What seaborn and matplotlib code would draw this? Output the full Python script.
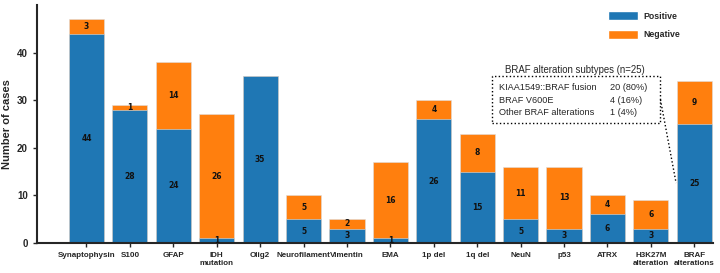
import matplotlib
matplotlib.use('Agg')
import matplotlib.pyplot as plt
from matplotlib.patches import Patch, Rectangle
import seaborn as sns
import pandas as pd

# marker names and counts
markers = ['Synaptophysin', 'S100', 'GFAP', 'IDH\nmutation', 'Olig2', 'Neurofilament',
           'Vimentin', 'EMA', '1p del', '1q del', 'NeuN', 'p53', 'ATRX',
           'H3K27M\nalteration', 'BRAF\nalterations']
positive = [44, 28, 24, 1, 35, 5, 3, 1, 26, 15, 5, 3, 6, 3, 25]
negative = [3, 1, 14, 26, 0, 5, 2, 16, 4, 8, 11, 13, 4, 6, 9]

# BRAF subtypes table
subtype_names = ['KIAA1549::BRAF fusion', 'BRAF V600E', 'Other BRAF alterations']
subtype_counts = ['20 (80%)', '4 (16%)', '1 (4%)']

df = pd.DataFrame({'marker': markers, 'positive': positive, 'negative': negative})
df['total'] = df['positive'] + df['negative']

sns.set_style('ticks')
plt.rcParams['font.family'] = ['Liberation Sans', 'DejaVu Sans']

blue = '#1f77b4'
orange = '#ff7f0e'

fig = plt.figure(figsize=(7.2, 2.73), dpi=100)
ax = fig.add_axes([37 / 720, 30 / 273, 676 / 720, 238 / 273])

sns.barplot(data=df, x='marker', y='total', color=orange, saturation=1, width=0.81,
            edgecolor='#dddddd', linewidth=0.4, ax=ax)
sns.barplot(data=df, x='marker', y='positive', color=blue, saturation=1, width=0.81,
            edgecolor='#dddddd', linewidth=0.4, ax=ax)

for i in range(len(markers)):
    if positive[i] > 0:
        ax.text(i, positive[i] / 2, str(positive[i]), ha='center', va='center',
                fontsize=5.5, fontweight='bold', color='#111111', family='DejaVu Sans')
    if negative[i] > 0:
        ax.text(i, positive[i] + negative[i] / 2, str(negative[i]), ha='center', va='center',
                fontsize=5.5, fontweight='bold', color='#111111', family='DejaVu Sans')

ax.set_xlim(-1.14, 14.43)
ax.set_ylim(0, 50)
ax.set_yticks([0, 10, 20, 30, 40])
ax.set_xlabel('')
ax.set_ylabel('Number of cases', fontsize=8, fontweight='bold')
ax.tick_params(axis='x', labelsize=5.8, width=1, length=3)
ax.tick_params(axis='y', labelsize=7, width=1, length=3)
for lab in ax.get_xticklabels() + ax.get_yticklabels():
    lab.set_fontweight('bold')
for s in ['top', 'right']:
    ax.spines[s].set_visible(False)
for s in ['left', 'bottom']:
    ax.spines[s].set_linewidth(1.5)

handles = [Patch(facecolor=blue, label='Positive'), Patch(facecolor=orange, label='Negative')]
ax.legend(handles=handles, loc='upper left', bbox_to_anchor=(0.845, 0.975), frameon=False,
          prop={'size': 6.3, 'weight': 'bold'}, handlelength=3.4, handleheight=1.25,
          labelspacing=1.05, borderpad=0, borderaxespad=0, handletextpad=0.6)

# BRAF subtypes box (data coordinates)
ax.text(11.26, 36.4, 'BRAF alteration subtypes (n=25)', ha='center', va='center', fontsize=6.9)
ax.add_patch(Rectangle((9.34, 25.3), 13.21 - 9.34, 35.1 - 25.3, fill=False,
                       linestyle=':', linewidth=1, edgecolor='black'))
for k, (nm, ct) in enumerate(zip(subtype_names, subtype_counts)):
    yy = 32.6 - k * 2.6
    ax.text(9.5, yy, nm, va='center', fontsize=6.6)
    ax.text(12.06, yy, ct, va='center', fontsize=6.6)
ax.plot([13.22, 13.58], [30.1, 12.6], linestyle=':', color='black', linewidth=1)

plt.savefig('out.png', dpi=100)
